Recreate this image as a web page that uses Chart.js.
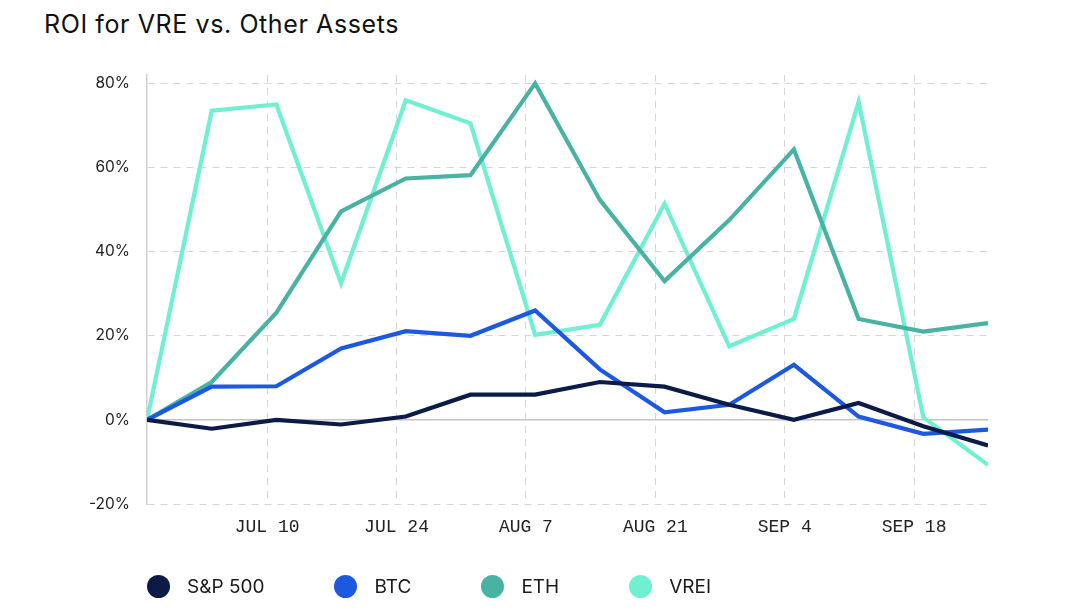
<!DOCTYPE html>
<html>
<head>
<meta charset="utf-8">
<script src="https://cdn.jsdelivr.net/npm/chart.js@4.4.1/dist/chart.umd.min.js"></script>
<style>
    html, body { margin: 0; padding: 0; background: #fff; }
    #wrap { position: relative; width: 1080px; height: 615px; overflow: hidden; }
    #title {
        position: absolute; left: 44px; top: 9px;
        font-family: Inter, "Noto Sans", sans-serif; font-size: 25px; color: #111;
        letter-spacing: 0.6px;
    }
    #chart { position: absolute; left: 0; top: 0; }
    #legend {
        position: absolute; left: 147px; top: 574px; height: 24px;
        display: flex; align-items: center;
        font-family: Inter, "Noto Sans", sans-serif; font-size: 19px; color: #1a1a1a;
    }
    .item { display: flex; align-items: center; margin-right: 70px; }
    .dot { width: 23px; height: 23px; border-radius: 50%; margin-right: 17px; }
</style>
</head>
<body>
<div id="wrap">
    <div id="title">ROI for VRE vs. Other Assets</div>
    <canvas id="chart" width="1080" height="615"></canvas>
    <div id="legend"></div>
</div>
<script>
// Weekly observations, as days after Jun 26
const weekDays = [1, 8, 15, 22, 29, 36, 43, 50, 57, 64, 71, 78, 85, 92];

// Date ticks on the x axis
const tickDays = [14, 28, 42, 56, 70, 84];
const tickLabels = ['JUL 10', 'JUL 24', 'AUG 7', 'AUG 21', 'SEP 4', 'SEP 18'];

// ROI in percent
const sp500 = [0, -2.1, 0, -1.1, 0.8, 6, 6, 9, 7.9, 3.6, 0, 4, -1.5, -6.1];
const btc   = [0, 7.9, 8, 17, 21.1, 20, 26, 12, 1.8, 3.6, 13.1, 0.8, -3.3, -2.3];
const eth   = [0, 9, 25.5, 49.6, 57.4, 58.2, 80, 52.3, 33, 47.5, 64.3, 24, 21, 23];
const vrei  = [0, 73.5, 75, 32.5, 76, 70.5, 20.2, 22.6, 51.4, 17.5, 24, 75.6, 0.6, -10.7];

const yTicks = [-20, 0, 20, 40, 60, 80];

const seriesNames = ['S&P 500', 'BTC', 'ETH', 'VREI'];
const seriesColors = ['#0c1a48', '#1d59e0', '#48b3a3', '#70f0d1'];
const seriesValues = [sp500, btc, eth, vrei];

function toPoints(values) {
    return values.map((v, i) => ({ x: weekDays[i], y: v }));
}

const datasets = seriesValues.map((values, i) => ({
    label: seriesNames[i],
    data: toPoints(values),
    borderColor: seriesColors[i],
    backgroundColor: seriesColors[i],
    borderWidth: 4.2,
    pointRadius: 0,
    tension: 0,
    fill: false
}));

const gridColor = '#d6d6d6';

new Chart(document.getElementById('chart').getContext('2d'), {
    type: 'line',
    data: { datasets: datasets },
    options: {
        responsive: false,
        animation: false,
        layout: { padding: { top: 75, right: 92, bottom: 65, left: 0 } },
        plugins: {
            legend: { display: false },
            tooltip: { enabled: false }
        },
        scales: {
            x: {
                type: 'linear',
                min: weekDays[0],
                max: weekDays[weekDays.length - 1],
                afterBuildTicks: scale => { scale.ticks = tickDays.map(v => ({ value: v })); },
                afterFit: scale => { scale.height = 46; },
                ticks: {
                    padding: 12,
                    color: '#222',
                    font: { family: '"Liberation Mono", "DejaVu Sans Mono", monospace', size: 18 },
                    callback: value => tickLabels[tickDays.indexOf(value)] || '',
                    maxRotation: 0,
                    autoSkip: false
                },
                grid: { color: gridColor, lineWidth: 1, drawTicks: false },
                border: { display: false, dash: [7, 6] }
            },
            y: {
                min: -20,
                max: 82,
                afterBuildTicks: scale => { scale.ticks = yTicks.map(v => ({ value: v })); },
                afterFit: scale => { scale.width = 147; },
                ticks: {
                    padding: 17,
                    color: '#222',
                    font: { family: 'Inter, "Noto Sans", sans-serif', size: 15.5 },
                    callback: value => value + '%'
                },
                grid: {
                    color: ctx => (ctx.tick && ctx.tick.value === 0) ? '#c4c4c4' : gridColor,
                    lineWidth: ctx => (ctx.tick && ctx.tick.value === 0) ? 1.5 : 1,
                    drawTicks: false
                },
                border: {
                    display: true,
                    color: '#cfcfcf',
                    width: 1.5,
                    dash: ctx => (ctx.tick && ctx.tick.value === 0) ? [] : [7, 6]
                }
            }
        }
    }
});

// Legend
const legend = document.getElementById('legend');
seriesNames.forEach((name, i) => {
    const item = document.createElement('div');
    item.className = 'item';
    const dot = document.createElement('span');
    dot.className = 'dot';
    dot.style.background = seriesColors[i];
    const text = document.createElement('span');
    text.textContent = name;
    item.appendChild(dot);
    item.appendChild(text);
    legend.appendChild(item);
});
</script>
</body>
</html>
